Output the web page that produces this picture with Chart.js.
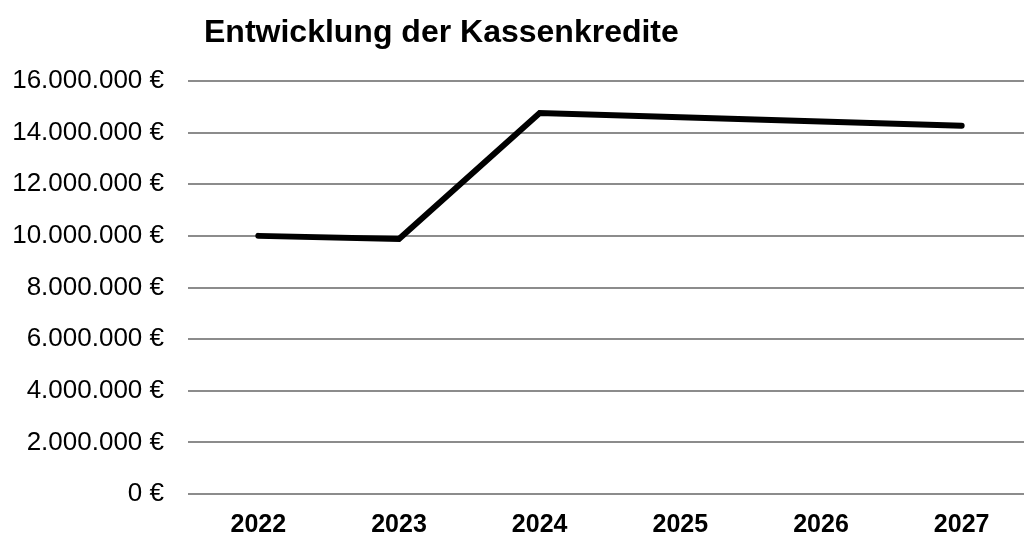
<!DOCTYPE html>
<html>
<head>
<meta charset="utf-8">
<script src="https://cdn.jsdelivr.net/npm/chart.js@4/dist/chart.umd.min.js"></script>
<style>
  html, body { margin: 0; padding: 0; background: #fff; overflow: hidden; }
  #wrap { width: 1032px; height: 535px; }
</style>
</head>
<body>
<div id="wrap"><canvas id="myChart" width="1032" height="535"></canvas></div>
<script>
// Daten der Kassenkredite (in Euro)
const years = ["2022", "2023", "2024", "2025", "2026", "2027"];
const kredite = [10000000, 9880000, 14760000, 14600000, 14430000, 14270000];
const yTicks = [0, 2000000, 4000000, 6000000, 8000000, 10000000, 12000000, 14000000, 16000000];
const chartTitle = "Entwicklung der Kassenkredite";

const FONT = "'Liberation Sans', Arial, sans-serif";

// Format 16000000 -> "16.000.000 €"
function euro(v) {
  return String(v).replace(/\B(?=(\d{3})+(?!\d))/g, ".") + " €";
}

// Titel links oben zeichnen (wie im Original nicht zentriert)
const titlePlugin = {
  id: "titlePlugin",
  afterDraw(chart) {
    const ctx = chart.ctx;
    ctx.save();
    ctx.font = "bold 32px " + FONT;
    ctx.fillStyle = "#000";
    ctx.textAlign = "left";
    ctx.textBaseline = "alphabetic";
    ctx.fillText(chartTitle, 204, 42);
    ctx.restore();
  },
};

const ctx = document.getElementById("myChart").getContext("2d");
const myChart = new Chart(ctx, {
  type: "line",
  data: {
    labels: years,
    datasets: [
      {
        label: "Kassenkredite",
        data: kredite,
        borderColor: "#000",
        borderWidth: 6,
        borderCapStyle: "round",
        borderJoinStyle: "miter",
        pointRadius: 0,
        tension: 0,
        fill: false,
      },
    ],
  },
  options: {
    responsive: false,
    animation: false,
    layout: {
      padding: { top: 81, left: 13, right: 0, bottom: 0 },
    },
    plugins: {
      legend: { display: false },
      title: { display: false },
      tooltip: { enabled: false },
    },
    scales: {
      x: {
        offset: true,
        grid: { display: false, drawTicks: false },
        border: { display: false },
        afterFit: (axis) => {
          axis.height = 41;
        },
        ticks: {
          color: "#000",
          padding: 19,
          font: { family: FONT, size: 25, weight: "bold", lineHeight: 1 },
          maxRotation: 0,
        },
      },
      y: {
        min: 0,
        max: 16000000,
        afterBuildTicks: (axis) => {
          axis.ticks = yTicks.map((v) => ({ value: v }));
        },
        afterFit: (axis) => {
          axis.width = 175;
        },
        grid: { color: "#8c8c8c", lineWidth: 2, drawTicks: false },
        border: { display: false },
        ticks: {
          color: "#000",
          padding: 24,
          font: { family: FONT, size: 26 },
          callback: (v) => euro(v),
        },
      },
    },
  },
  plugins: [titlePlugin],
});
</script>
</body>
</html>
